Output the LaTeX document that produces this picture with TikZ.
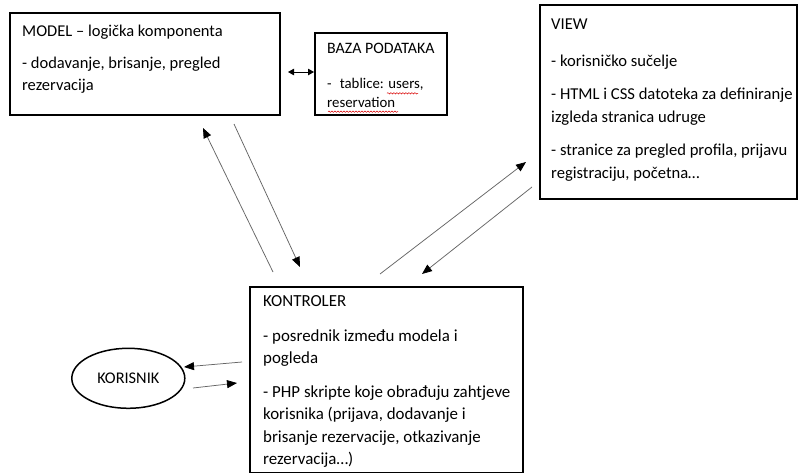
\documentclass[tikz,border=0pt]{standalone}
\usepackage{fontspec}
\setmainfont{Carlito}
\usetikzlibrary{arrows.meta,shapes.geometric,decorations.pathmorphing}
\tikzset{
  box/.style={draw=black, line width=1.3pt, inner sep=0pt, fill=none},
  txt/.style={anchor=north west, inner sep=0pt, align=left, text=black},
  conn/.style={draw=black!60, line width=0.75pt, -{Triangle[length=10pt,width=8pt,color=black]}},
  dbl/.style={draw=black, line width=1pt, {Triangle[length=6pt,width=6.5pt]}-{Triangle[length=6pt,width=6.5pt]}},
  spell/.style={draw=red!85!black, line width=0.5pt, decorate, decoration={snake, amplitude=0.7pt, segment length=3pt}}
}
\begin{document}
\begin{tikzpicture}[x=1pt,y=-1pt]
\useasboundingbox[fill=white] (0,0) rectangle (800,474);
% boxes
\node[box, minimum width=270pt, minimum height=102pt] (model) at (145,64) {};
\node[box, minimum width=132pt, minimum height=82pt] (baza) at (381,74) {};
\node[box, minimum width=257pt, minimum height=194pt] (view) at (668.5,102) {};
\node[box, minimum width=273pt, minimum height=185.5pt] (kontroler) at (386.5,379.75) {};
\node[draw=black, line width=1.5pt, ellipse, minimum width=113pt, minimum height=60pt, inner sep=0pt,
      font=\fontsize{16.3pt}{19pt}\selectfont] (korisnik) at (128.3,378.3) {KORISNIK};
% texts
\node[txt, font=\fontsize{16.5pt}{22.4pt}\selectfont] (modeltxt) at (22,20.3)
  {\strut MODEL – logička komponenta\\[9.9pt]
   - dodavanje, brisanje, pregled\\
   rezervacija};
\node[txt, font=\fontsize{14.8pt}{19pt}\selectfont] (bazatxt) at (327,40)
  {\strut{\fontsize{15.9pt}{19pt}\selectfont BAZA PODATAKA}\\[16pt]
   -\hspace{0.55em}tablice: users,\\
   reservation};
\node[txt, font=\fontsize{16.6pt}{23.5pt}\selectfont] (viewtxt) at (551,12.5)
  {\strut VIEW\\[14pt]
   - korisničko sučelje\\[9pt]
   - HTML i CSS datoteka za definiranje\\
   izgleda stranica udruge\\[9pt]
   - stranice za pregled profila, prijavu\\
   registraciju, početna…};
\node[txt, font=\fontsize{16.9pt}{22.4pt}\selectfont] (kontrolertxt) at (263,290.4)
  {\strut KONTROLER\\[12.5pt]
   - posrednik između modela i\\
   pogleda\\[11.5pt]
   - PHP skripte koje obrađuju zahtjeve\\
   korisnika (prijava, dodavanje i\\
   brisanje rezervacije, otkazivanje\\
   rezervacija…)};
% spell-check underlines
\draw[spell] (387,93.3) -- (418,93.3);
\draw[spell] (328,111.7) -- (398,111.7);
% connector end points
\coordinate (md1) at (288,72);
\coordinate (md2) at (314,72);
\coordinate (mk1) at (273,272);
\coordinate (mk2) at (203,128);
\coordinate (km1) at (234,124);
\coordinate (km2) at (300,267);
\coordinate (kv1) at (380,274);
\coordinate (kv2) at (526,162);
\coordinate (vk1) at (532,187);
\coordinate (vk2) at (422,274);
\coordinate (kk1) at (242,362);
\coordinate (kk2) at (184,367);
\coordinate (kk3) at (193,388);
\coordinate (kk4) at (237,383);
% connectors
\draw[dbl] (md1) -- (md2);
\draw[conn] (mk1) -- (mk2);
\draw[conn] (km1) -- (km2);
\draw[conn] (kv1) -- (kv2);
\draw[conn] (vk1) -- (vk2);
\draw[conn] (kk1) -- (kk2);
\draw[conn] (kk3) -- (kk4);
\end{tikzpicture}
\end{document}
